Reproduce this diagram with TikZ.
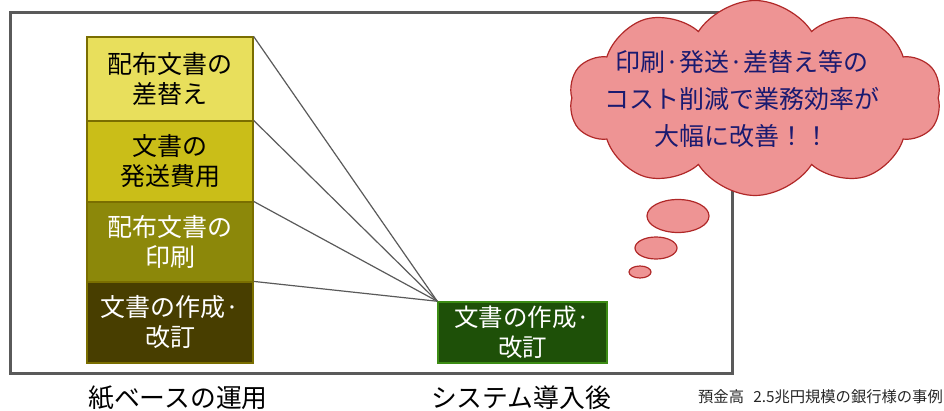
\documentclass[tikz,border=0pt]{standalone}
\usepackage{fontspec}
\setmainfont{Noto Sans CJK JP}
\usetikzlibrary{shapes.symbols,shapes.geometric}
\definecolor{frameg}{HTML}{5A5A5A}
\definecolor{bxa}{HTML}{E8DF5C}
\definecolor{bxb}{HTML}{CABE18}
\definecolor{bxc}{HTML}{8C880A}
\definecolor{bxd}{HTML}{483E00}
\definecolor{bxedge}{HTML}{7A6E00}
\definecolor{grfill}{HTML}{1E5008}
\definecolor{gredge}{HTML}{3C8C14}
\definecolor{cloudfill}{HTML}{EE9494}
\definecolor{cloudedge}{HTML}{B02828}
\definecolor{cloudtext}{HTML}{1A1A70}
\tikzset{
  costbox/.style={draw=bxedge, line width=1.2pt, minimum width=166pt, inner sep=0pt, align=center, font=\fontsize{25}{30}\selectfont},
  convline/.style={draw=frameg, line width=1.2pt},
  bubble/.style={draw=cloudedge, fill=cloudfill, line width=1.2pt},
  biglabel/.style={font=\fontsize{25.8}{30}\selectfont, inner sep=0pt}
}
\begin{document}
\begin{tikzpicture}[x=1pt,y=-1pt]
\useasboundingbox (0,0) rectangle (944,411);
% frame
\draw[frameg, line width=3pt] (10,12.5) rectangle (732,373);
% boxes
\node[costbox, fill=bxa, minimum height=84pt, text=black] (b1) at (170,79) {配布文書の\\差替え};
\node[costbox, fill=bxb, minimum height=81pt, text=black] (b2) at (170,161.5) {文書の\\発送費用};
\node[costbox, fill=bxc, minimum height=80pt, text=white] (b3) at (170,242) {配布文書の\\印刷};
\node[costbox, fill=bxd, minimum height=81pt, text=white] (b4) at (170,322.5) {文書の作成·\\改訂};
% new box
\node[draw=gredge, fill=grfill, line width=1.5pt, minimum width=169pt, minimum height=61pt, inner sep=0pt, align=center, text=white, font=\fontsize{24.5}{30}\selectfont] (g) at (522.5,332.5) {文書の作成·\\改訂};
% lines
\draw[convline] (b1.north east) -- (g.north west);
\draw[convline] (b2.north east) -- (g.north west);
\draw[convline] (b3.north east) -- (g.north west);
\draw[convline] (b4.north east) -- (g.north west);
% labels
\node[biglabel] (l1) at (178,398) {紙ベースの運用};
\node[biglabel] (l2) at (521,398) {システム導入後};
\node[inner sep=0pt, anchor=east, font=\fontsize{15.3}{18}\selectfont, text=black!85] (cap) at (943,397) {預金高\hspace{0.6em}2.5兆円規模の銀行様の事例};
% cloud
\node[bubble, cloud, cloud puffs=10, cloud puff arc=115, aspect=1.9, minimum width=372pt, minimum height=195pt, inner sep=0pt] (cl) at (755,98) {};
\node[text=cloudtext, align=center, font=\fontsize{25}{37}\selectfont] (ct) at (742,99) {印刷·発送·差替え等の\\コスト削減で業務効率が\\大幅に改善！！};
\node[bubble, ellipse, minimum width=62pt, minimum height=33pt, inner sep=0pt] (e1) at (678,216) {};
\node[bubble, ellipse, minimum width=42pt, minimum height=22pt, inner sep=0pt] (e2) at (656,248) {};
\node[bubble, ellipse, minimum width=22pt, minimum height=12pt, inner sep=0pt] (e3) at (640,272) {};
\end{tikzpicture}
\end{document}
